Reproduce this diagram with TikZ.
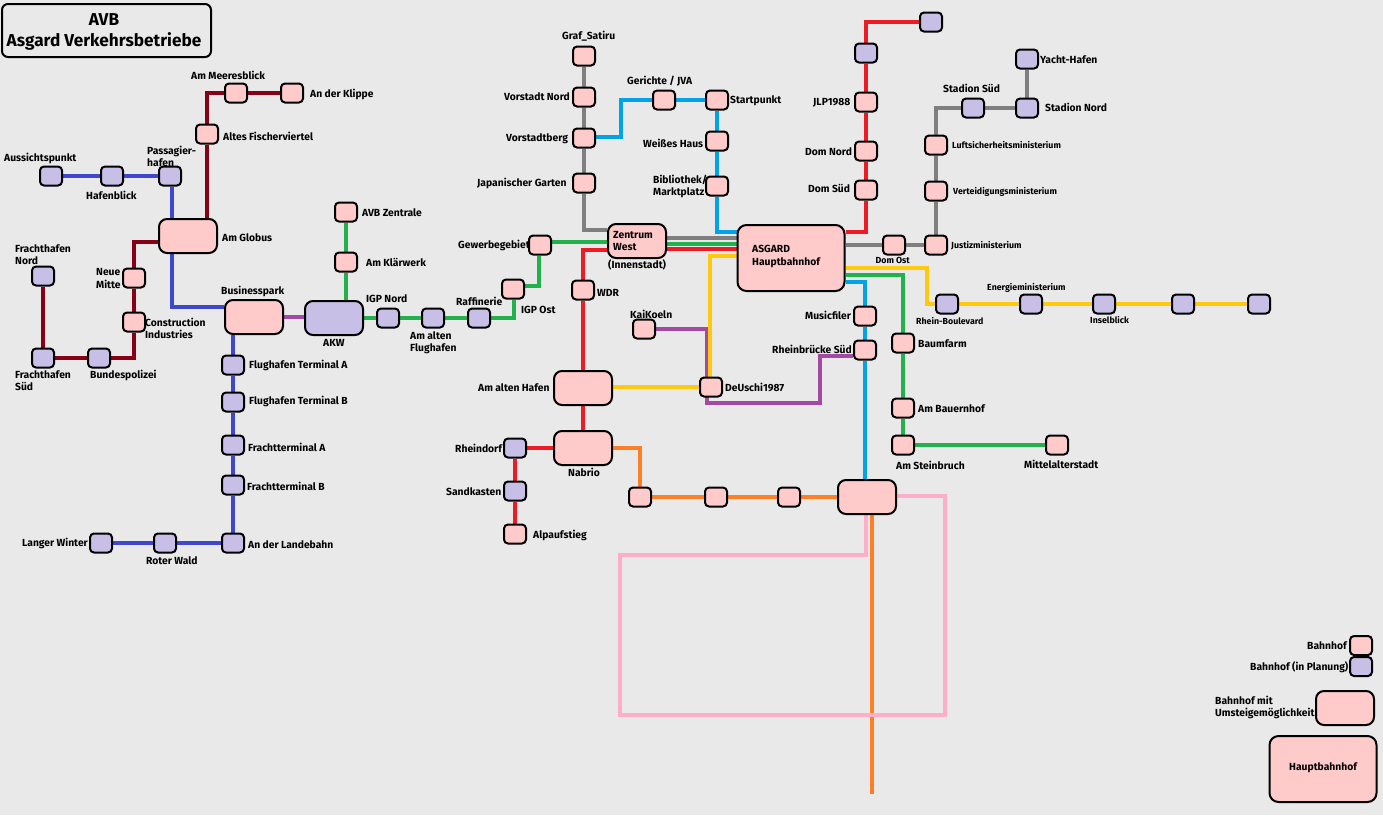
\documentclass[tikz,border=0pt]{standalone}
\usepackage{fontspec}
\setmainfont{Fira Sans}
\usetikzlibrary{backgrounds}
\definecolor{paper}{HTML}{E9E9E9}
\definecolor{stopfill}{HTML}{FFCACA}
\definecolor{planfill}{HTML}{C8BFE7}
\definecolor{ldarkred}{HTML}{880015}
\definecolor{lindigo}{HTML}{3F48CC}
\definecolor{lpurple}{HTML}{A349A4}
\definecolor{lgreen}{HTML}{22B14C}
\definecolor{lgray}{HTML}{7F7F7F}
\definecolor{lred}{HTML}{ED1C24}
\definecolor{lcyan}{HTML}{00A2E8}
\definecolor{lyellow}{HTML}{FFC90E}
\definecolor{lorange}{HTML}{FF7F27}
\definecolor{lpink}{HTML}{FFAEC9}
\tikzset{
  box/.style={draw=black,line width=2pt,inner sep=0pt},
  stn/.style={box,fill=stopfill,rounded corners=4pt,minimum width=22pt,minimum height=19pt},
  plan/.style={stn,fill=planfill},
  xfer/.style={box,fill=stopfill,rounded corners=8pt,minimum width=58pt,minimum height=34pt},
  xferplan/.style={xfer,fill=planfill},
  hubbox/.style={box,fill=stopfill,rounded corners=9pt,minimum width=107pt,minimum height=66pt},
  lab/.style={anchor=west,align=left,inner sep=0pt,yshift=-0.6pt,font=\fontsize{10.3}{12.5}\selectfont\bfseries},
  labs/.style={lab,font=\fontsize{8.8}{10.5}\selectfont\bfseries},
  route/.style={line width=3.4pt,line join=miter}
}
\begin{document}
\begin{tikzpicture}[x=1pt,y=-1pt]
\useasboundingbox (0,0) rectangle (1383,815);

% Title plate
\node[box,rounded corners=6pt,minimum width=209pt,minimum height=53pt] (title) at (106.5,30.5) {};
\node[align=center,inner sep=0pt,font=\fontsize{17.2}{21}\selectfont\bfseries] (titletext) at (104,31.5) {AVB\\Asgard Verkehrsbetriebe};

% West: harbour, airport
\node[stn] (ameer) at (236,93) {};
\node[stn] (klippe) at (292,93) {};
\node[stn] (fisch) at (207,134) {};
\node[plan] (aussicht) at (51,176) {};
\node[plan] (hafenb) at (112,176) {};
\node[plan] (passag) at (170,176) {};
\node[xfer] (globus) at (188,236) {};
\node[plan] (frnord) at (43,276) {};
\node[stn] (neue) at (134,278) {};
\node[stn] (constr) at (134,322) {};
\node[plan] (frsued) at (43,358) {};
\node[plan] (bund) at (99,358) {};
\node[xfer] (business) at (254,317) {};
\node[xferplan] (akw) at (334,318) {};
\node[plan] (fta) at (233,365) {};
\node[plan] (ftb) at (233,402) {};
\node[plan] (fra) at (233,445) {};
\node[plan] (frb) at (233,485) {};
\node[plan] (lande) at (233,543) {};
\node[plan] (roter) at (165,543) {};
\node[plan] (langer) at (101,543) {};

% Industrial branch
\node[stn] (zentrale) at (346,212) {};
\node[stn] (klaer) at (346,262) {};
\node[plan] (igpn) at (388,318) {};
\node[plan] (alten) at (433,318) {};
\node[plan] (raff) at (479,318) {};
\node[stn] (igpo) at (513,289) {};
\node[stn] (gewerbe) at (540,245) {};

% Centre
\node[xfer] (zentrum) at (637,241) {};
\node[stn] (graf) at (584,56) {};
\node[stn] (vnord) at (584,97) {};
\node[stn] (vberg) at (584,138) {};
\node[stn] (japan) at (584,183) {};
\node[stn] (gericht) at (664,100) {};
\node[stn] (start) at (717,100) {};
\node[stn] (weiss) at (717,141) {};
\node[stn] (biblio) at (717,186) {};
\node[stn] (wdr) at (583,290) {};
\node[hubbox] (hbf) at (791,258) {};
\node[stn] (kai) at (644,329) {};
\node[stn] (deuschi) at (711,387) {};
\node[xfer] (althafen) at (583,388) {};
\node[xfer] (nabrio) at (583,448) {};
\node[plan] (rheind) at (515,448) {};
\node[plan] (sand) at (515,491) {};
\node[stn] (alp) at (515,534) {};
\node[stn] (ost1) at (640,497) {};
\node[stn] (ost2) at (716,497) {};
\node[stn] (ost3) at (789,497) {};
\node[xfer] (south) at (867,497) {};

% North and east
\node[stn] (music) at (865,316) {};
\node[stn] (rheinb) at (865,350) {};
\node[plan] (nend) at (931,22) {};
\node[plan] (nplan) at (866,53) {};
\node[stn] (jlp) at (866,102) {};
\node[stn] (domn) at (866,151) {};
\node[stn] (doms) at (866,190) {};
\node[stn] (domo) at (894,245) {};
\node[stn] (justiz) at (936,245) {};
\node[stn] (vert) at (936,191) {};
\node[stn] (luft) at (936,145) {};
\node[plan] (stads) at (973,108) {};
\node[plan] (stadn) at (1027,108) {};
\node[plan] (yacht) at (1027,59) {};
\node[plan] (boul) at (947,304) {};
\node[plan] (energ) at (1031,304) {};
\node[plan] (insel) at (1104,304) {};
\node[plan] (gelb4) at (1183,304) {};
\node[plan] (gelb5) at (1259,304) {};
\node[stn] (baum) at (903,343) {};
\node[stn] (bauer) at (903,408) {};
\node[stn] (stein) at (903,445) {};
\node[stn] (mittel) at (1057,445) {};

% Key
\node[stn] (kstn) at (1361,645.5) {};
\node[plan] (kplan) at (1361,666.5) {};
\node[xfer] (kxfer) at (1345,708) {};
\node[hubbox] (khub) at (1323,769) {};

% Routes, behind the stations
\begin{scope}[on background layer]
\fill[paper] (0,0) rectangle (1383,815);

% dark red
\coordinate (a1) at (207,93);
\coordinate (a2) at (134,242);
\coordinate (a3) at (134,358);
\draw[route,ldarkred] (klippe) -- (ameer) -- (a1) -- (fisch) -- (fisch |- globus.north);
\draw[route,ldarkred] (globus.west |- a2) -- (a2) -- (neue) -- (constr) -- (a3) -- (bund) -- (frsued) -- (frnord);

% indigo
\coordinate (b1) at (172,307);
\draw[route,lindigo] (aussicht) -- (hafenb) -- (passag);
\draw[route,lindigo] (passag.south -| b1) -- (b1) -- (business.west |- b1);
\draw[route,lindigo] (business.south -| fta) -- (fta) -- (ftb) -- (fra) -- (frb) -- (lande) -- (roter) -- (langer);

% purple
\coordinate (c0) at (300,317);
\coordinate (c1) at (707,329);
\coordinate (c2) at (707,403);
\coordinate (c3) at (820,403);
\coordinate (c4) at (820,356);
\draw[route,lpurple] (business.east |- c0) -- (akw.west |- c0);
\draw[route,lpurple] (kai.east |- c1) -- (c1) -- (c2) -- (c3) -- (c4) -- (rheinb.west |- c4);

% green
\coordinate (d1) at (514,318);
\coordinate (d2) at (539,286);
\coordinate (d3) at (600,242);
\coordinate (d4) at (700,244);
\coordinate (d5) at (903,275);
\draw[route,lgreen] (zentrale) -- (klaer) -- (klaer |- akw.north);
\draw[route,lgreen] (akw.east |- igpn) -- (igpn) -- (alten) -- (raff) -- (d1) -- (d1 |- igpo.south);
\draw[route,lgreen] (igpo.east |- d2) -- (d2) -- (d2 |- gewerbe.south);
\draw[route,lgreen] (gewerbe.east |- d3) -- (zentrum.west |- d3);
\draw[route,lgreen] (zentrum.east |- d4) -- (hbf.west |- d4);
\draw[route,lgreen] (hbf.east |- d5) -- (d5) -- (baum) -- (bauer) -- (stein) -- (mittel);

% gray
\coordinate (e1) at (584,230);
\coordinate (e2) at (700,238);
\coordinate (e3) at (936,108);
\draw[route,lgray] (graf) -- (vnord) -- (vberg) -- (japan) -- (e1) -- (zentrum.west |- e1);
\draw[route,lgray] (zentrum.east |- e2) -- (hbf.west |- e2);
\draw[route,lgray] (hbf.east |- domo) -- (domo) -- (justiz) -- (vert) -- (luft) -- (e3) -- (stads) -- (stadn) -- (yacht);

% red
\coordinate (f1) at (700,249);
\coordinate (f2) at (583,250);
\coordinate (f3) at (866,232);
\coordinate (f4) at (866,22);
\draw[route,lred] (zentrum.east |- f1) -- (hbf.west |- f1);
\draw[route,lred] (zentrum.west |- f2) -- (f2) -- (wdr) -- (althafen) -- (nabrio);
\draw[route,lred] (nabrio) -- (rheind) -- (sand) -- (alp);
\draw[route,lred] (hbf.east |- f3) -- (f3) -- (doms) -- (domn) -- (jlp) -- (nplan) -- (f4) -- (nend);

% cyan
\coordinate (g1) at (621,137);
\coordinate (g2) at (621,100);
\coordinate (g3) at (717,232);
\coordinate (g4) at (865,282);
\draw[route,lcyan] (vberg.east |- g1) -- (g1) -- (g2) -- (gericht) -- (start) -- (weiss) -- (biblio) -- (g3) -- (hbf.west |- g3);
\draw[route,lcyan] (hbf.east |- g4) -- (g4) -- (music) -- (rheinb) -- (rheinb |- south.north);

% yellow
\coordinate (h1) at (710,256);
\coordinate (h2) at (927,268);
\coordinate (h3) at (927,304);
\draw[route,lyellow] (hbf.west |- h1) -- (h1) -- (h1 |- deuschi.north);
\draw[route,lyellow] (althafen.east |- deuschi) -- (deuschi);
\draw[route,lyellow] (hbf.east |- h2) -- (h2) -- (h3) -- (boul) -- (energ) -- (insel) -- (gelb4) -- (gelb5);

% orange
\coordinate (i1) at (640,448);
\coordinate (i2) at (872,794);
\draw[route,lorange] (nabrio.east |- i1) -- (i1) -- (ost1) -- (ost2) -- (ost3) -- (south);
\draw[route,lorange] (south.south -| i2) -- (i2);

% pink
\coordinate (j1) at (945,496);
\coordinate (j2) at (945,715);
\coordinate (j3) at (620,715);
\coordinate (j4) at (620,555);
\coordinate (j5) at (866,555);
\draw[route,lpink] (south.east |- j1) -- (j1) -- (j2) -- (j3) -- (j4) -- (j5) -- (south.south -| j5);
\end{scope}

% Station names
\node[lab] (t01) at (191,75) {Am Meeresblick};
\node[lab] (t02) at (310,94) {An der Klippe};
\node[lab] (t03) at (223,136) {Altes Fischerviertel};
\node[lab] (t04) at (4,158) {Aussichtspunkt};
\node[lab] (t05) at (147,156) {Passagier-\\hafen};
\node[lab] (t06) at (86,195) {Hafenblick};
\node[lab] (t07) at (222,237) {Am Globus};
\node[lab] (t08) at (15,254) {Frachthafen\\Nord};
\node[lab] (t09) at (96,278) {Neue\\Mitte};
\node[lab] (t10) at (145,328) {Construction\\Industries};
\node[lab] (t11) at (221,291) {Businesspark};
\node[lab] (t12) at (15,380) {Frachthafen\\Süd};
\node[lab] (t13) at (90,375) {Bundespolizei};
\node[lab] (t14) at (323,342.5) {AKW};
\node[lab] (t15) at (366,298.5) {IGP Nord};
\node[lab] (t16) at (410,342) {Am alten\\Flughafen};
\node[lab] (t17) at (456,301) {Raffinerie};
\node[lab] (t18) at (521,309) {IGP Ost};
\node[lab] (t19) at (362,212) {AVB Zentrale};
\node[lab] (t20) at (366,262) {Am Klärwerk};
\node[lab] (t21) at (249,365) {Flughafen Terminal A};
\node[lab] (t22) at (249,401) {Flughafen Terminal B};
\node[lab] (t23) at (248,447) {Frachtterminal A};
\node[lab] (t24) at (247,486) {Frachtterminal B};
\node[lab] (t25) at (248,544) {An der Landebahn};
\node[lab] (t26) at (22,543) {Langer Winter};
\node[lab] (t27) at (146,560) {Roter Wald};
\node[lab] (t28) at (562,36) {Graf\_Satiru};
\node[lab] (t29) at (504,96) {Vorstadt Nord};
\node[lab] (t30) at (506,138) {Vorstadtberg};
\node[lab] (t31) at (477,183) {Japanischer Garten};
\node[lab] (t32) at (458,245) {Gewerbegebiet};
\node[lab] (t33) at (627,81) {Gerichte / JVA};
\node[lab] (t34) at (730,100) {Startpunkt};
\node[lab] (t35) at (643,143) {Weißes Haus};
\node[lab] (t36) at (653,186) {Bibliothek/\\Marktplatz};
\node[lab] (t37) at (613,240.5) {Zentrum\\West};
\node[lab] (t38) at (608,264) {(Innenstadt)};
\node[lab] (t39) at (597,292) {WDR};
\node[lab] (t40) at (752,256) {ASGARD\\Hauptbahnhof};
\node[lab] (t41) at (630,314) {KaiKoeln};
\node[lab] (t42) at (805,315) {Musicfiler};
\node[lab] (t43) at (772,349) {Rheinbrücke Süd};
\node[lab] (t44) at (725,387) {DeUschi1987};
\node[lab] (t45) at (478,387) {Am alten Hafen};
\node[lab] (t46) at (455,447.5) {Rheindorf};
\node[lab] (t47) at (446,491) {Sandkasten};
\node[lab] (t48) at (533,535) {Alpaufstieg};
\node[lab] (t49) at (568,472) {Nabrio};
\node[lab] (t50) at (813,102) {JLP1988};
\node[lab] (t51) at (805,151) {Dom Nord};
\node[lab] (t52) at (808,188) {Dom Süd};
\node[labs] (t53) at (875.5,260) {Dom Ost};
\node[lab] (t54) at (1040,59) {Yacht-Hafen};
\node[lab] (t55) at (943,88) {Stadion Süd};
\node[lab] (t56) at (1045,107) {Stadion Nord};
\node[labs] (t57) at (952,144) {Luftsicherheitsministerium};
\node[labs] (t58) at (953,191) {Verteidigungsministerium};
\node[labs] (t59) at (951,245) {Justizministerium};
\node[labs] (t60) at (987,287) {Energieministerium};
\node[labs] (t61) at (916,320) {Rhein-Boulevard};
\node[labs] (t62) at (1090,319) {Inselblick};
\node[lab] (t63) at (918,343) {Baumfarm};
\node[lab] (t64) at (918,408) {Am Bauernhof};
\node[lab] (t65) at (896,465) {Am Steinbruch};
\node[lab] (t66) at (1024,464) {Mittelalterstadt};

% Key texts
\node[lab] (k1) at (1307,645) {Bahnhof};
\node[lab] (k2) at (1250,667) {Bahnhof (in Planung)};
\node[lab] (k3) at (1215,707) {Bahnhof mit\\Umsteigemöglichkeit};
\node[lab] (k4) at (1289,767) {Hauptbahnhof};
\end{tikzpicture}
\end{document}
